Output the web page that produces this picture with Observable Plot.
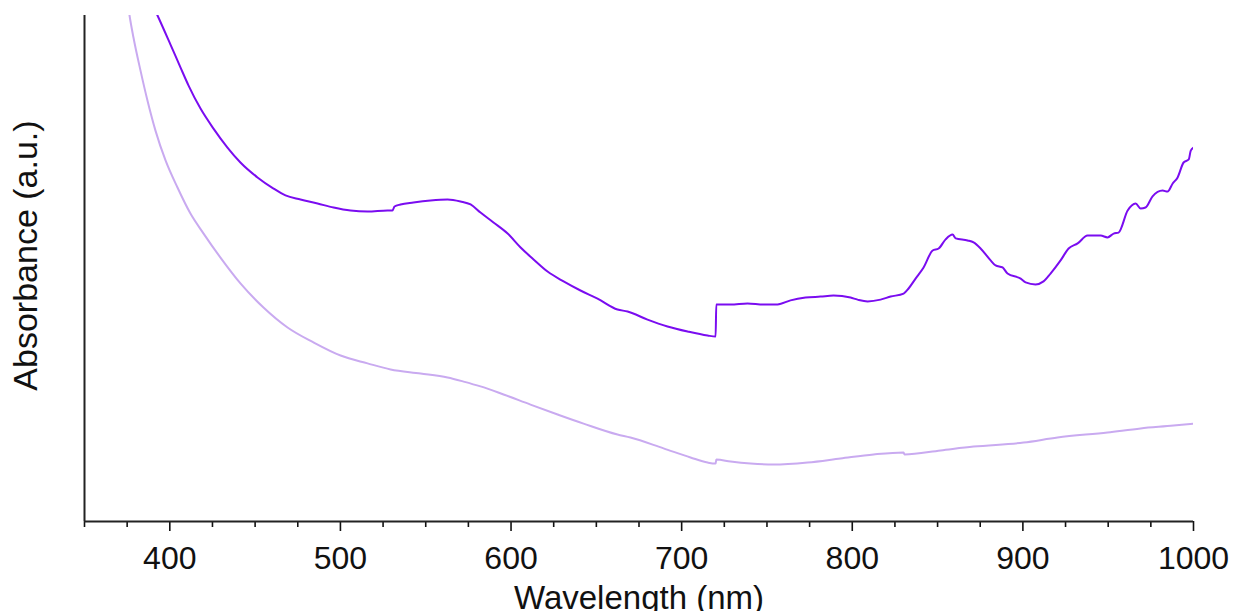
<!DOCTYPE html>
<html>
<head>
<meta charset="utf-8">
<script src="https://cdn.jsdelivr.net/npm/d3@7"></script>
<script src="https://cdn.jsdelivr.net/npm/@observablehq/plot@0.6"></script>
<style>
  html, body { margin: 0; padding: 0; background: #fff; }
</style>
</head>
<body>
<div id="chart"></div>
<script>
// Wavelength (nm) and absorbance (a.u.)
const darkWavelength = [385.8, 392.8, 400.4, 406.3, 411.0, 418.0, 425.6, 433.8, 441.4, 451.4, 460.8, 467.8, 476.6, 486.6, 496.0, 505.9, 515.9, 527.6, 530.5, 531.7, 535.2, 542.8, 552.8, 562.8, 570.4, 576.3, 582.1, 589.7, 598.0, 605.6, 613.2, 621.4, 630.8, 640.7, 650.7, 662.4, 668.3, 680.0, 691.7, 703.5, 715.2, 719.9, 720.3, 722.8, 728.7, 738.6, 748.0, 756.2, 763.8, 772.6, 781.4, 789.0, 799.0, 803.1, 809.0, 816.6, 822.5, 830.1, 833.0, 837.1, 841.8, 847.1, 850.6, 854.7, 858.8, 860.6, 867.6, 871.1, 875.2, 881.1, 884.0, 888.1, 891.0, 898.7, 901.6, 907.4, 912.1, 916.2, 922.1, 926.8, 932.1, 937.9, 945.6, 949.6, 953.2, 956.1, 961.4, 966.1, 969.0, 971.9, 976.0, 981.9, 984.8, 987.8, 990.7, 994.2, 997.2, 998.4, 1000.0];
const darkAbsorbance = [2.099, 2.000, 1.885, 1.794, 1.723, 1.632, 1.553, 1.478, 1.419, 1.360, 1.316, 1.289, 1.273, 1.257, 1.241, 1.229, 1.225, 1.229, 1.229, 1.245, 1.253, 1.261, 1.269, 1.273, 1.265, 1.253, 1.221, 1.182, 1.138, 1.083, 1.036, 0.988, 0.949, 0.913, 0.881, 0.838, 0.830, 0.798, 0.771, 0.751, 0.735, 0.731, 0.858, 0.858, 0.858, 0.862, 0.858, 0.858, 0.874, 0.885, 0.889, 0.893, 0.885, 0.877, 0.870, 0.877, 0.889, 0.901, 0.921, 0.960, 1.004, 1.071, 1.079, 1.115, 1.134, 1.119, 1.111, 1.103, 1.079, 1.032, 1.012, 1.004, 0.980, 0.960, 0.945, 0.937, 0.949, 0.980, 1.032, 1.079, 1.099, 1.130, 1.130, 1.123, 1.138, 1.142, 1.229, 1.257, 1.237, 1.241, 1.285, 1.308, 1.304, 1.336, 1.360, 1.419, 1.431, 1.466, 1.478];

const lightWavelength = [373.4, 376.4, 378.7, 382.8, 386.9, 391.6, 397.5, 404.5, 412.1, 419.8, 429.7, 441.4, 454.9, 469.0, 484.2, 500.1, 515.9, 529.4, 547.0, 562.8, 572.2, 582.1, 595.6, 611.4, 627.3, 642.5, 662.4, 670.0, 689.4, 705.2, 715.2, 719.9, 720.3, 728.7, 740.4, 753.9, 773.8, 793.1, 812.5, 830.1, 830.6, 851.8, 871.1, 900.4, 920.3, 949.6, 969.0, 988.3, 1000.0];
const lightAbsorbance = [2.158, 2.000, 1.913, 1.783, 1.664, 1.545, 1.427, 1.320, 1.217, 1.138, 1.043, 0.941, 0.846, 0.767, 0.708, 0.656, 0.625, 0.601, 0.585, 0.569, 0.553, 0.534, 0.502, 0.462, 0.423, 0.387, 0.344, 0.332, 0.289, 0.253, 0.233, 0.229, 0.245, 0.237, 0.229, 0.225, 0.233, 0.249, 0.265, 0.273, 0.265, 0.281, 0.296, 0.312, 0.332, 0.352, 0.368, 0.379, 0.387];

const majorTicks = [400, 500, 600, 700, 800, 900, 1000];
const minorTicks = [350, 375, 425, 450, 475, 525, 550, 575, 625, 650, 675, 725, 750, 775, 825, 850, 875, 925, 950, 975];

const xLabel = "Wavelength (nm)";
const yLabel = "Absorbance (a.u.)";

const dark = darkWavelength.map((w, i) => ({w, a: darkAbsorbance[i]}));
const light = lightWavelength.map((w, i) => ({w, a: lightAbsorbance[i]}));

const chart = Plot.plot({
  width: 1233,
  height: 611,
  marginTop: 15,
  marginBottom: 90,
  marginLeft: 84,
  marginRight: 40,
  x: {domain: [350, 1000]},
  y: {domain: [0, 2]},
  style: {fontFamily: "'Liberation Sans', Arial, sans-serif", fontSize: "32px", color: "#111", background: "#fff"},
  marks: [
    Plot.axisX({ticks: minorTicks, tickSize: 6, tickFormat: () => "", strokeWidth: 1.6, label: null}),
    Plot.axisX({ticks: majorTicks, tickSize: 10, tickPadding: 15, strokeWidth: 1.6, fontSize: 32,
      tickFormat: d => String(d), label: null}),
    Plot.axisY({ticks: [], label: null}),
    Plot.ruleY([0], {stroke: "#222", strokeWidth: 2}),
    Plot.ruleX([350], {stroke: "#222", strokeWidth: 2}),
    Plot.line(light, {x: "w", y: "a", stroke: "#c9aaf0", strokeWidth: 2, curve: "monotone-x", clip: true}),
    Plot.line(dark, {x: "w", y: "a", stroke: "#7a0cf0", strokeWidth: 2, curve: "monotone-x", clip: true}),
    Plot.text([xLabel], {text: d => d, frameAnchor: "bottom", dy: 77, fontSize: 33, lineAnchor: "middle", textAnchor: "middle", fill: "#111"}),
    Plot.text([yLabel], {text: d => d, frameAnchor: "left", dx: -58, dy: -13, rotate: -90, fontSize: 34, lineAnchor: "middle", textAnchor: "middle", fill: "#111"})
  ]
});
document.getElementById("chart").appendChild(chart);
</script>
</body>
</html>
